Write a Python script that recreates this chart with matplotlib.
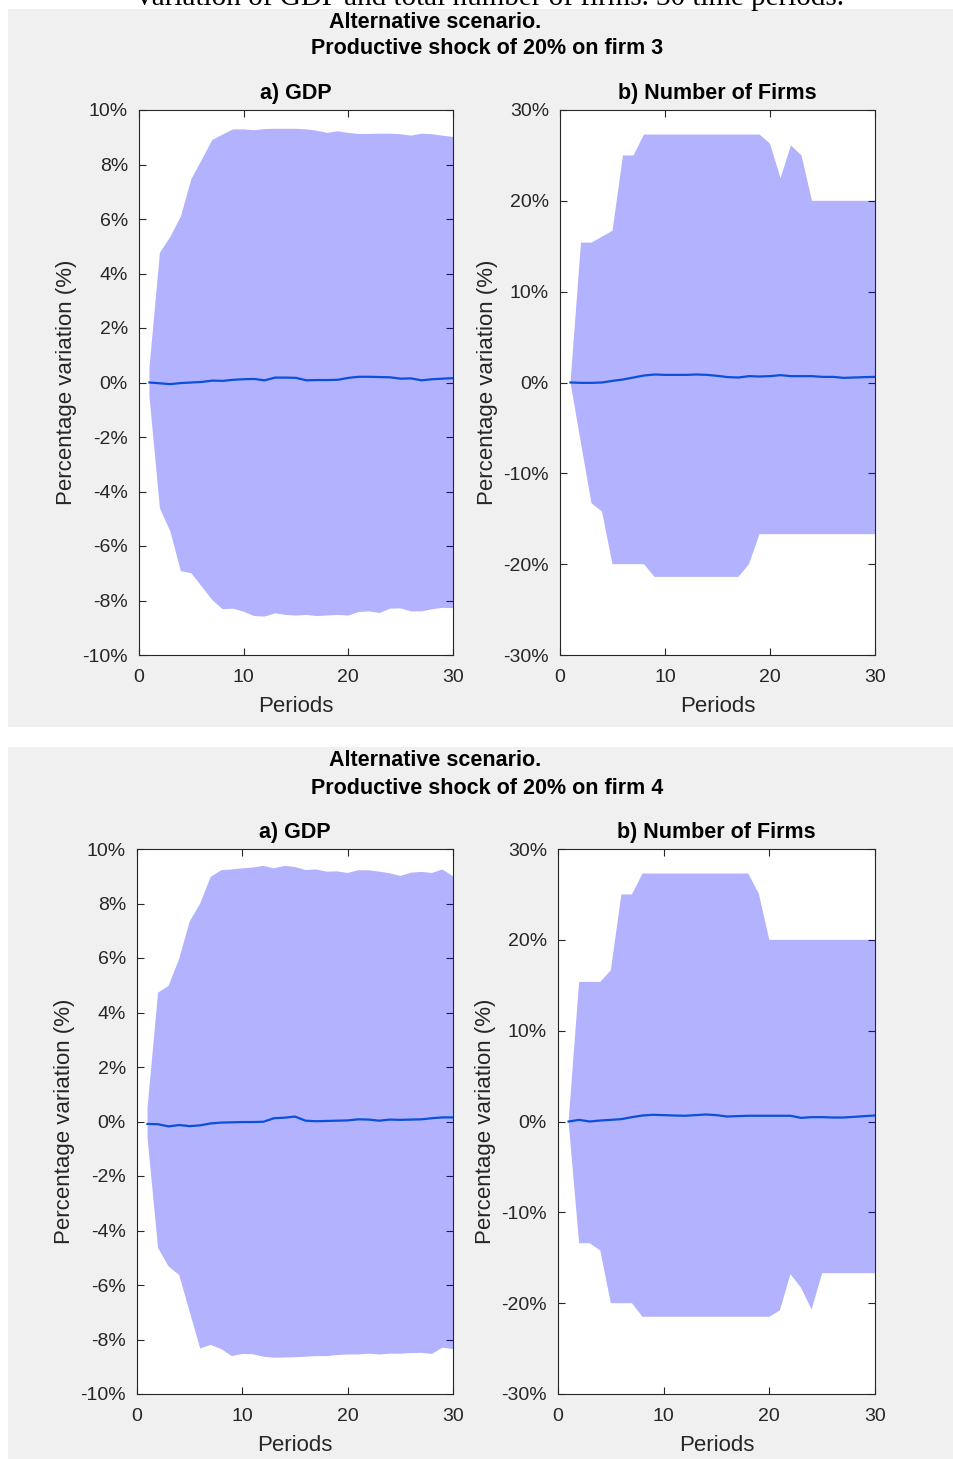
import numpy as np
import matplotlib.pyplot as plt
from matplotlib.patches import Rectangle
from matplotlib.ticker import FuncFormatter

# periods
periods = np.arange(1, 31)

# firm 3 shock - GDP (% variation)
gdp3_upper = [0.55, 4.76, 5.35, 6.09, 7.46, 8.17, 8.9, 9.1, 9.29, 9.29,
              9.26, 9.3, 9.31, 9.31, 9.31, 9.29, 9.24, 9.16, 9.22, 9.16,
              9.12, 9.12, 9.13, 9.13, 9.11, 9.06, 9.13, 9.11, 9.06, 9.01]
gdp3_mean = [0.0, -0.03, -0.06, -0.02, 0.0, 0.02, 0.07, 0.06, 0.1, 0.12,
             0.13, 0.08, 0.18, 0.18, 0.17, 0.08, 0.09, 0.09, 0.1, 0.17,
             0.21, 0.21, 0.2, 0.19, 0.14, 0.15, 0.08, 0.12, 0.14, 0.16]
gdp3_lower = [-0.52, -4.62, -5.47, -6.92, -7.0, -7.49, -7.98, -8.32, -8.3, -8.41,
              -8.57, -8.59, -8.47, -8.53, -8.55, -8.53, -8.57, -8.55, -8.53, -8.55,
              -8.42, -8.4, -8.46, -8.3, -8.29, -8.4, -8.4, -8.32, -8.27, -8.28]

# firm 3 shock - number of firms (% variation)
nf3_upper = [0.0, 15.4, 15.4, 16.05, 16.7, 25.0, 25.0, 27.3, 27.3, 27.3,
             27.3, 27.3, 27.3, 27.3, 27.3, 27.3, 27.3, 27.3, 27.3, 26.3,
             22.5, 26.1, 25.0, 20.0, 20.0, 20.0, 20.0, 20.0, 20.0, 20.0]
nf3_mean = [0.0, -0.04, -0.04, 0.0, 0.18, 0.33, 0.55, 0.77, 0.88, 0.84,
            0.84, 0.84, 0.88, 0.84, 0.73, 0.59, 0.55, 0.7, 0.66, 0.7,
            0.81, 0.7, 0.7, 0.7, 0.62, 0.62, 0.51, 0.55, 0.59, 0.62]
nf3_lower = [0.0, -6.7, -13.3, -14.2, -20.0, -20.0, -20.0, -20.0, -21.4, -21.4,
             -21.4, -21.4, -21.4, -21.4, -21.4, -21.4, -21.4, -20.0, -16.7, -16.7,
             -16.7, -16.7, -16.7, -16.7, -16.7, -16.7, -16.7, -16.7, -16.7, -16.7]

# firm 4 shock - GDP
gdp4_upper = [0.5, 4.73, 4.98, 5.97, 7.34, 8.0, 8.98, 9.22, 9.25, 9.29,
              9.32, 9.38, 9.29, 9.38, 9.34, 9.23, 9.25, 9.17, 9.18, 9.12,
              9.22, 9.22, 9.17, 9.11, 9.01, 9.13, 9.16, 9.12, 9.25, 9.0]
gdp4_mean = [-0.09, -0.1, -0.18, -0.13, -0.17, -0.14, -0.07, -0.04, -0.03, -0.02,
             -0.02, -0.01, 0.12, 0.14, 0.18, 0.03, 0.01, 0.02, 0.03, 0.04,
             0.08, 0.07, 0.03, 0.07, 0.06, 0.07, 0.08, 0.12, 0.15, 0.15]
gdp4_lower = [-0.6, -4.64, -5.32, -5.63, -6.98, -8.33, -8.2, -8.35, -8.61, -8.53,
              -8.54, -8.63, -8.67, -8.66, -8.65, -8.63, -8.61, -8.61, -8.57, -8.55,
              -8.55, -8.52, -8.55, -8.52, -8.52, -8.5, -8.49, -8.53, -8.3, -8.35]

# firm 4 shock - number of firms
nf4_upper = [0.0, 15.37, 15.37, 15.37, 16.65, 25.0, 25.0, 27.3, 27.3, 27.3,
             27.3, 27.3, 27.3, 27.3, 27.3, 27.3, 27.3, 27.3, 25.1, 20.0,
             20.0, 20.0, 20.0, 20.0, 20.0, 20.0, 20.0, 20.0, 20.0, 20.0]
nf4_mean = [0.0, 0.18, 0.0, 0.11, 0.18, 0.26, 0.48, 0.66, 0.74, 0.7,
            0.66, 0.63, 0.7, 0.77, 0.7, 0.55, 0.59, 0.63, 0.63, 0.63,
            0.63, 0.63, 0.4, 0.48, 0.48, 0.44, 0.44, 0.51, 0.59, 0.66]
nf4_lower = [0.0, -13.4, -13.4, -14.2, -20.0, -20.0, -20.0, -21.5, -21.5, -21.5,
             -21.5, -21.5, -21.5, -21.5, -21.5, -21.5, -21.5, -21.5, -21.5, -21.5,
             -20.8, -16.8, -18.3, -20.7, -16.7, -16.7, -16.7, -16.7, -16.7, -16.7]

firms = [3, 4]

W, H = 954, 1459
fig = plt.figure(figsize=(W / 100, H / 100), dpi=100)
fig.patch.set_facecolor('white')
plt.rcParams['font.family'] = ['Liberation Sans', 'DejaVu Sans']

# gray MATLAB figure backgrounds, drawn behind the axes
for top, bot in [(9, 727), (747, 1459)]:
    fig.patches.append(Rectangle((8 / W, 1 - bot / H), (W - 7) / W, (bot - top) / H,
                                 transform=fig.transFigure, facecolor='#f0f0f0',
                                 edgecolor='none', zorder=-10))

# cropped caption at the very top (cut off in the source image too)
fig.text(489 / W, 1 - 5 / H, 'Variation of GDP and total number of firms. 30 time periods.',
         family='Liberation Serif', fontsize=21, ha='center', va='baseline', color='black')

dark = '#262626'

def panel(rect, upper, mean, lower, lim, step, title):
    ax = fig.add_axes(rect)
    ax.set_facecolor('white')
    ax.fill_between(periods, lower, upper, facecolor='blue', alpha=0.3,
                    edgecolor='none', zorder=3)
    ax.plot(periods, mean, color='#0a50d8', lw=1.6, zorder=4)
    ax.set_xlim(0, 30)
    ax.set_ylim(-lim, lim)
    ax.set_xticks([0, 10, 20, 30])
    ax.set_yticks(np.arange(-lim, lim + step / 2, step))
    ax.yaxis.set_major_formatter(FuncFormatter(lambda v, p: '%d%%' % round(v)))
    ax.tick_params(direction='in', top=True, right=True, length=5, width=0.8,
                   colors=dark, labelsize=14, pad=8)
    ax.tick_params(axis='x', pad=10)
    for s in ax.spines.values():
        s.set_color(dark)
        s.set_linewidth(0.8)
    ax.set_xlabel('Periods', fontsize=16, color=dark, labelpad=7)
    ax.set_ylabel('Percentage variation (%)', fontsize=16, color=dark, labelpad=4)
    ax.set_title(title, fontsize=15.5, fontweight='bold', pad=8)
    return ax

def fig_rect(x0, x1, y0, y1):
    return [x0 / W, 1 - y1 / H, (x1 - x0) / W, (y1 - y0) / H]

rows = [
    (0, gdp3_upper, gdp3_mean, gdp3_lower, nf3_upper, nf3_mean, nf3_lower,
     (139, 453), (560, 875), (110, 655)),
    (739, gdp4_upper, gdp4_mean, gdp4_lower, nf4_upper, nf4_mean, nf4_lower,
     (137, 453), (558, 875), (849, 1394)),
]

for firm, row in zip(firms, rows):
    off, gu, gm, gl, nu, nm, nl, xl, xr, yy = row
    panel(fig_rect(xl[0], xl[1], yy[0], yy[1]), gu, gm, gl, 10, 2, 'a) GDP')
    panel(fig_rect(xr[0], xr[1], yy[0], yy[1]), nu, nm, nl, 30, 10, 'b) Number of Firms')
    fig.text(435 / W, 1 - (22 + off) / H, 'Alternative scenario.', fontsize=15.5,
             fontweight='bold', ha='center', va='center')
    fig.text(487 / W, 1 - (49 + off) / H, 'Productive shock of 20%% on firm %d' % firm,
             fontsize=15.5, fontweight='bold', ha='center', va='center')

fig.savefig('out.png', dpi=100)
